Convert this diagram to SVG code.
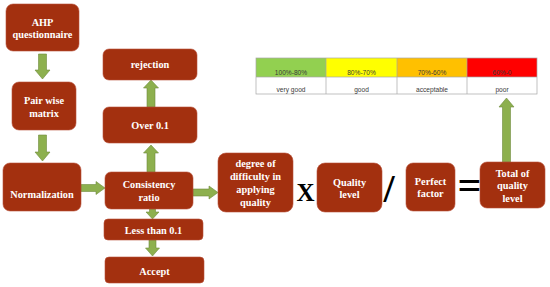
<svg xmlns="http://www.w3.org/2000/svg" width="550" height="287" viewBox="0 0 550 287">
<style>
.b{fill:#A3300F;stroke:#B8503A;stroke-width:0.6}
.t{font-family:"Liberation Serif","Times New Roman",serif;font-weight:bold;font-size:10.3px;fill:#fff;text-anchor:middle}
.a{fill:#8DB04E;stroke:#6F8C3C;stroke-width:0.6}
.op{font-family:"Liberation Serif","Times New Roman",serif;font-weight:bold;fill:#000;text-anchor:middle}
.c{stroke:#A6A6A6;stroke-width:0.7}
.tt{font-family:"Liberation Sans",Arial,sans-serif;font-size:6.6px;fill:#3A3A3A;text-anchor:middle}
</style>
<rect width="550" height="287" fill="#fff"/>
<g id="connectors">
<path class="a" d="M38.5,54 H46.5 V70 H50 L42.5,79 L35,70 H38.5 Z"/>
<path class="a" d="M38.5,135 H46.5 V152 H50 L42.5,161 L35,152 H38.5 Z"/>
<path class="a" d="M81,184.5 H96 V181.5 L105,188 L96,194.5 V191.5 H81 Z"/>
<path class="a" d="M147,172 V153 H143.5 L151,145 L158.5,153 H155 V172 Z"/>
<path class="a" d="M147,107 V88 H143.5 L151,80 L158.5,88 H155 V107 Z"/>
<path class="a" d="M149.5,209 H155.5 V212 H159 L152.5,219 L146,212 H149.5 Z"/>
<path class="a" d="M149,240 H156 V248 H159.5 L152.5,256 L145.5,248 H149 Z"/>
<path class="a" d="M193,189 H209 V186 L218,192.5 L209,199 V196 H193 Z"/>
<path class="a" d="M502.5,162 V107 H499 L506.5,98 L514,107 H510.5 V162 Z"/>
</g>
<g id="n-ahp"><rect class="b" x="6" y="4" width="73" height="47" rx="7"/><text class="t" x="42.5" y="25.5">AHP</text><text class="t" x="42.5" y="38">questionnaire</text></g>
<g id="n-pair"><rect class="b" x="12" y="82" width="64" height="48" rx="7"/><text class="t" x="44" y="104">Pair wise</text><text class="t" x="44" y="117">matrix</text></g>
<g id="n-norm"><rect class="b" x="3" y="163" width="78" height="48" rx="7"/><text class="t" x="42" y="198">Normalization</text></g>
<g id="n-cons"><rect class="b" x="105" y="172" width="88" height="37" rx="6"/><text class="t" x="149" y="188">Consistency</text><text class="t" x="149" y="201">ratio</text></g>
<g id="n-rej"><rect class="b" x="103" y="49" width="94" height="31" rx="6"/><text class="t" x="150" y="68">rejection</text></g>
<g id="n-over"><rect class="b" x="103" y="107" width="94" height="36" rx="6"/><text class="t" x="150" y="129">Over 0.1</text></g>
<g id="n-less"><rect class="b" x="104" y="219" width="99" height="21" rx="4"/><text class="t" x="153.5" y="234">Less than 0.1</text></g>
<g id="n-accept"><rect class="b" x="105" y="257" width="99" height="26" rx="4"/><text class="t" x="154.5" y="275">Accept</text></g>
<g id="n-degree"><rect class="b" x="218" y="153" width="75" height="59" rx="8"/><text class="t" x="255.5" y="167">degree of</text><text class="t" x="255.5" y="180">difficulty in</text><text class="t" x="255.5" y="193">applying</text><text class="t" x="255.5" y="206">quality</text></g>
<g id="n-quality"><rect class="b" x="317" y="163" width="65" height="49" rx="8"/><text class="t" x="349.5" y="186">Quality</text><text class="t" x="349.5" y="198">level</text></g>
<g id="n-perfect"><rect class="b" x="406" y="163" width="49" height="48" rx="7"/><text class="t" x="430.5" y="185">Perfect</text><text class="t" x="430.5" y="197">factor</text></g>
<g id="n-total"><rect class="b" x="480" y="162" width="65" height="46" rx="7"/><text class="t" x="512.5" y="177">Total of</text><text class="t" x="512.5" y="189">quality</text><text class="t" x="512.5" y="202">level</text></g>
<g id="operators">
<text class="op" x="305.5" y="201" font-size="25">X</text>
<text class="op" x="389" y="201.5" font-size="40" font-weight="normal">/</text>
<text class="op" x="469.5" y="199" font-size="42">=</text>
</g>
<g id="scale">
<rect x="256" y="58" width="70" height="19" fill="#92D050"/>
<rect x="326" y="58" width="71" height="19" fill="#FFFF00"/>
<rect x="397" y="58" width="70" height="19" fill="#FFC000"/>
<rect x="467" y="58" width="70" height="19" fill="#FF0000"/>
<rect x="256" y="77" width="281" height="17" fill="#fff"/>
<g class="c" fill="none">
<rect x="256" y="58" width="281" height="36"/>
<line x1="256" y1="77" x2="537" y2="77"/>
<line x1="326" y1="58" x2="326" y2="94"/>
<line x1="397" y1="58" x2="397" y2="94"/>
<line x1="467" y1="58" x2="467" y2="94"/>
</g>
<text class="tt" x="291" y="75">100%-80%</text>
<text class="tt" x="361.5" y="75">80%-70%</text>
<text class="tt" x="432" y="75">70%-60%</text>
<text class="tt" x="502" y="75">60%-0</text>
<text class="tt" x="291" y="92">very good</text>
<text class="tt" x="361.5" y="92">good</text>
<text class="tt" x="432" y="92">acceptable</text>
<text class="tt" x="502" y="92">poor</text>
</g>
</svg>
